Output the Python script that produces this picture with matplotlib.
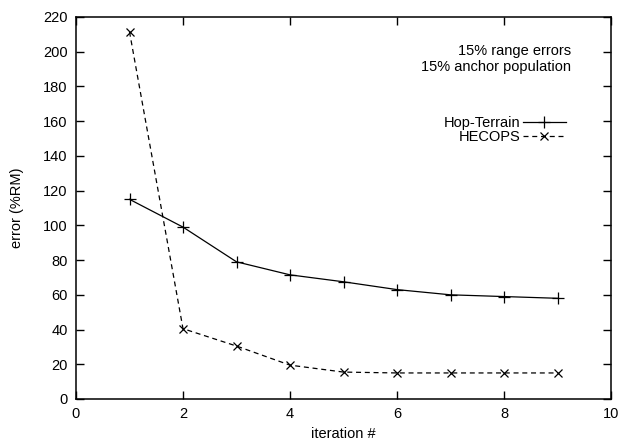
import matplotlib
matplotlib.use("Agg")
import matplotlib.pyplot as plt

plt.rcParams['font.family'] = ['Liberation Sans', 'DejaVu Sans']

iterations = [1, 2, 3, 4, 5, 6, 7, 8, 9]
hop_terrain = [115, 99, 79, 71.5, 67.5, 63, 60, 59, 58]
hecops = [211.5, 40.5, 30.5, 19.5, 15.5, 15, 15, 15, 15]

fig = plt.figure(figsize=(6.23, 4.43), dpi=100)
ax = fig.add_axes([76 / 623, 1 - 399 / 443, 535 / 623, 382 / 443])

ax.plot(iterations, hop_terrain, color="black", linewidth=0.9, marker="+",
        markersize=8, markeredgewidth=0.9, label="Hop-Terrain")
ax.plot(iterations, hecops, color="black", linewidth=0.9, linestyle=(0, (4, 3)),
        marker="x", markersize=6, markeredgewidth=0.9, label="HECOPS")

ax.set_xlim(0, 10)
ax.set_ylim(0, 220)
ax.set_xticks(range(0, 11, 2))
ax.set_yticks(range(0, 221, 20))
ax.tick_params(direction="in", length=6, width=1, top=True, right=True,
               labelsize=10.5, pad=6)
for s in ax.spines.values():
    s.set_linewidth(1.1)

ax.set_xlabel("iteration #", fontsize=10.5, labelpad=4)
ax.set_ylabel("error (%RM)", fontsize=10.5, labelpad=14)

ax.text(0.926, 0.93, "15% range errors\n15% anchor population", transform=ax.transAxes,
        ha="right", va="top", fontsize=10.5, linespacing=1.2)

ax.legend(loc="upper right", bbox_to_anchor=(0.93, 0.76), frameon=False,
          markerfirst=False, fontsize=10.5, handlelength=3.0, handletextpad=0.15,
          labelspacing=0.0, borderpad=0)

fig.savefig("out.png", dpi=100)
